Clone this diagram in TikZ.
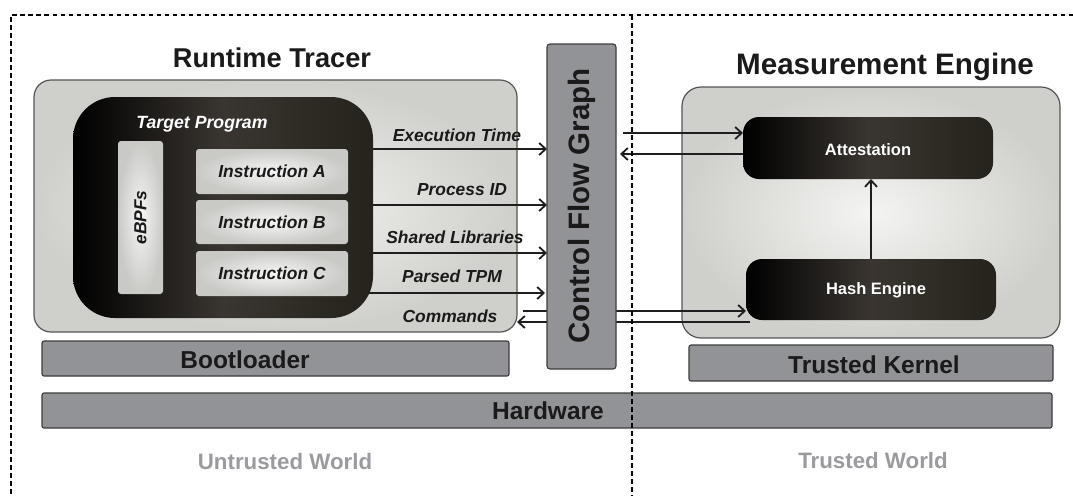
\documentclass[tikz,border=0pt]{standalone}
\usepackage{fontspec}
\setmainfont{Liberation Sans}
\usetikzlibrary{arrows.meta,calc}
\definecolor{panelout}{HTML}{CFCFCB}
\definecolor{panelin}{HTML}{F4F4F2}
\definecolor{panelline}{HTML}{555555}
\definecolor{darkmid}{HTML}{3A3530}
\definecolor{darkright}{HTML}{25231B}
\definecolor{lightout}{HTML}{C9C9C6}
\definecolor{lightin}{HTML}{F6F6F5}
\definecolor{bargray}{HTML}{929397}
\definecolor{barline}{HTML}{3C3C3C}
\definecolor{ink}{HTML}{1A1A1A}
\definecolor{linecol}{HTML}{1E1E1E}
\definecolor{worldgray}{HTML}{9A9B9F}
\begin{document}
\begin{tikzpicture}[x=1pt,y=-1pt,
  every node/.style={inner sep=0pt,outer sep=0pt},
  panel/.style={anchor=north west,draw=panelline,line width=1.2pt,
    rounded corners=17pt,outer color=panelout,inner color=panelin},
  darkbox/.style={anchor=north west,rounded corners=#1,
    left color=black,right color=darkright,middle color=darkmid},
  lightbox/.style={anchor=north west,rounded corners=3pt,
    outer color=lightout,inner color=lightin},
  bar/.style={anchor=north west,fill=bargray,draw=barline,line width=1.1pt,
    rounded corners=2pt},
  frame/.style={line width=1.5pt,dash pattern=on 4.5pt off 3.5pt},
  flow/.style={line width=2.7pt,draw=linecol,
    -{Straight Barb[length=6.5pt,width=12pt,line width=1.8pt]}},
  bigtitle/.style={font=\bfseries\fontsize{#1}{#1}\selectfont,text=ink},
  lbl/.style={font=\bfseries\itshape\fontsize{17.4}{18}\selectfont,text=ink},
  instr/.style={font=\bfseries\itshape\fontsize{17.4}{18}\selectfont,text=ink},
  whitelbl/.style={font=\bfseries\fontsize{16.5}{18}\selectfont,text=white},
  barlbl/.style={font=\bfseries\fontsize{24.5}{26}\selectfont,text=ink},
  world/.style={font=\bfseries\fontsize{22.3}{24}\selectfont,text=worldgray}]
\useasboundingbox (0,0) rectangle (1073,496);

% Titles
\node[bigtitle=27.2] (rttitle) at (272,58) {Runtime Tracer};
\node[bigtitle=29.6] (metitle) at (885,67) {Measurement Engine};

% Runtime tracer panel and its target program
\node[panel,minimum width=483pt,minimum height=252pt] (rt) at (34,80) {};
\node[darkbox=42pt,minimum width=300pt,minimum height=221pt] (tp) at (73,97) {};
\node[font=\bfseries\itshape\fontsize{17.7}{18}\selectfont,text=white] (tptitle) at (202,124) {Target Program};
\node[lightbox,minimum width=45pt,minimum height=153pt] (ebpf) at (118,141) {};
\node[instr,rotate=90] (ebpflbl) at (ebpf.center) {eBPFs};
\node[lightbox,minimum width=152pt,minimum height=45pt] (ia) at (196,149) {};
\node[lightbox,minimum width=152pt,minimum height=44pt] (ib) at (196,200) {};
\node[lightbox,minimum width=152pt,minimum height=45pt] (ic) at (196,251) {};
\node[instr] (ialbl) at (ia.center) {Instruction A};
\node[instr] (iblbl) at (ib.center) {Instruction B};
\node[instr] (iclbl) at (ic.center) {Instruction C};

% Measurement engine panel
\node[panel,rounded corners=19pt,minimum width=378pt,minimum height=251pt] (me) at (682,87) {};
\node[darkbox=16pt,minimum width=250pt,minimum height=62pt] (att) at (743,117) {};
\node[whitelbl] (attlbl) at (868,150) {Attestation};
\node[darkbox=16pt,minimum width=250pt,minimum height=61pt] (hash) at (746,259) {};
\node[whitelbl] (hashlbl) at (876,290) {Hash Engine};

% Layers underneath
\node[bar,minimum width=467pt,minimum height=35pt] (boot) at (42,341) {};
\node[barlbl] (bootlbl) at (245,360) {Bootloader};
\node[bar,minimum width=364pt,minimum height=36pt] (tk) at (689,345) {};
\node[barlbl] (tklbl) at (874,365) {Trusted Kernel};
\node[bar,minimum width=1010pt,minimum height=35pt] (hw) at (42,393) {};
\node[barlbl] (hwlbl) at (548,411) {Hardware};

% World captions
\node[world] (untrusted) at (285,462) {Untrusted World};
\node[world] (trusted) at (873,461) {Trusted World};

% Command traffic between the worlds (passes behind the graph block)
\draw[flow] ($(rt.east |- 0,311)+(6,0)$) -- (hash.west |- 0,311);
\draw[flow] ($(hash.west |- 0,322)+(4,0)$) -- (rt.east |- 0,322);

% Control flow graph block
\node[anchor=north west,fill=bargray,draw=barline,line width=1.1pt,rounded corners=3pt,
  minimum width=69pt,minimum height=325pt] (cfg) at (547,44) {};
\node[font=\bfseries\fontsize{29.5}{30}\selectfont,text=ink,rotate=90] (cfglbl) at (582,206) {Control Flow Graph};

% Data passed from the target program
\draw[flow] (tp.east |- 0,149) -- (cfg.west |- 0,149);
\draw[flow] (tp.east |- 0,205) -- (cfg.west |- 0,205);
\draw[flow] (tp.east |- 0,253) -- (cfg.west |- 0,253);
\draw[flow] ($(tp.east |- 0,293)+(-4,0)$) -- ($(cfg.west |- 0,293)+(-2,0)$);
\node[lbl] (l1) at (457,135) {Execution Time};
\node[lbl] (l2) at (462,190) {Process ID};
\node[lbl] (l3) at (455,237) {Shared Libraries};
\node[lbl] (l4) at (452,276) {Parsed TPM};
\node[lbl] (l5) at (450,316) {Commands};

% Graph and attestation exchange
\draw[flow] ($(cfg.east |- 0,133)+(7,0)$) -- (att.west |- 0,133);
\draw[flow] (att.west |- 0,154) -- ($(cfg.east |- 0,154)+(4,0)$);
\draw[flow] (hash.north -| 871,0) -- (att.south -| 871,0);

% Dashed world boundaries
\draw[frame] (1073,15) -- (11,15) -- (11,496);
\draw[frame] (632,15) -- (632,496);
\end{tikzpicture}
\end{document}
